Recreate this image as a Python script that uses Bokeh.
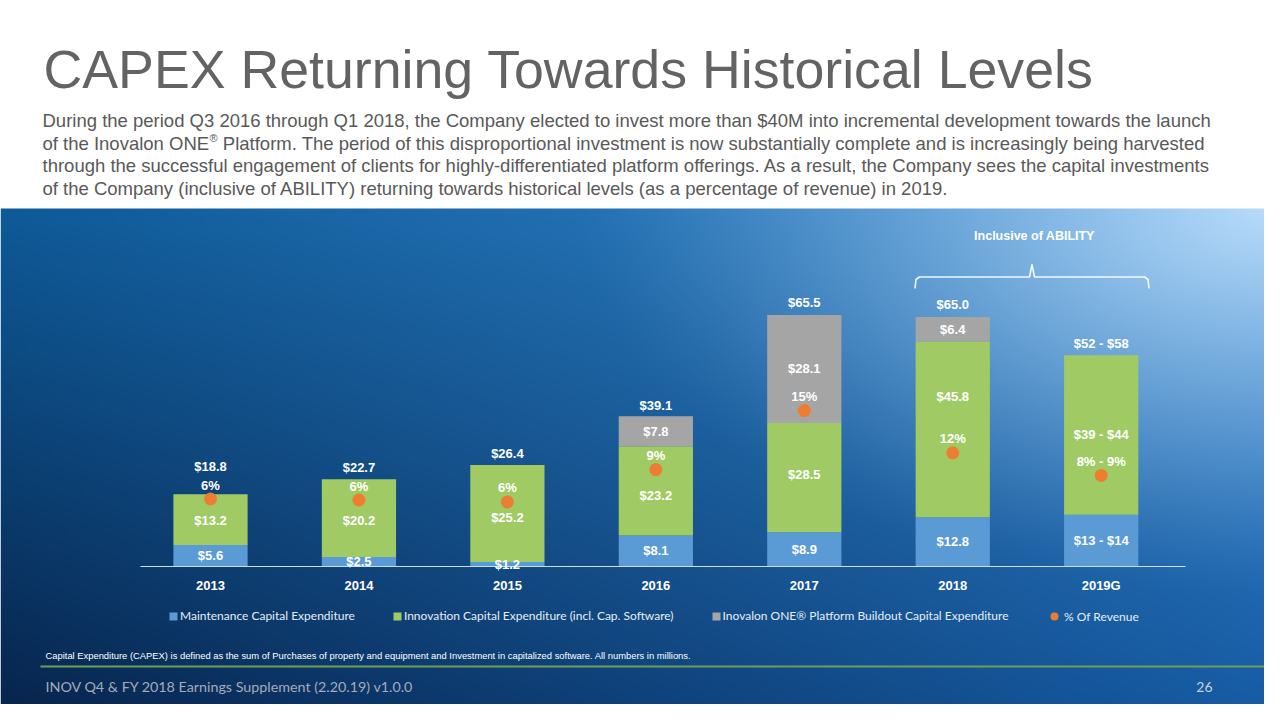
import numpy as np
from bokeh.plotting import figure
from bokeh.models import ColumnDataSource, Range1d, Label, Legend, LegendItem
from bokeh.core.properties import value
from bokeh.embed import file_html
from bokeh.resources import INLINE

# ---------------- data ----------------
categories = ["2013", "2014", "2015", "2016", "2017", "2018", "2019G"]
maintenance = [5.6, 2.5, 1.2, 8.1, 8.9, 12.8, 13.5]
innovation = [13.2, 20.2, 25.2, 23.2, 28.5, 45.8, 41.5]
buildout = [0.0, 0.0, 0.0, 7.8, 28.1, 6.4, 0.0]
pct_of_revenue = [6.0, 5.9, 5.7, 9.0, 15.0, 10.7, 8.4]

maintenance_labels = ["$5.6", "$2.5", "$1.2", "$8.1", "$8.9", "$12.8", "$13 - $14"]
innovation_labels = ["$13.2", "$20.2", "$25.2", "$23.2", "$28.5", "$45.8", "$39 - $44"]
buildout_labels = ["", "", "", "$7.8", "$28.1", "$6.4", ""]
total_labels = ["$18.8", "$22.7", "$26.4", "$39.1", "$65.5", "$65.0", "$52 - $58"]
pct_labels = ["6%", "6%", "6%", "9%", "15%", "12%", "8% - 9%"]

series_names = [
    "Maintenance Capital Expenditure",
    "Innovation Capital Expenditure (incl. Cap. Software)",
    "Inovalon ONE\u00ae Platform Buildout Capital Expenditure",
    "% Of Revenue",
]

title_text = "CAPEX Returning Towards Historical Levels"
body_line1 = "During the period Q3 2016 through Q1 2018, the Company elected to invest more than $40M into incremental development towards the launch"
body_line2a = "of the Inovalon ONE"
body_line2_reg = "\u00ae"
body_line2b = "Platform. The period of this disproportional investment is now substantially complete and is increasingly being harvested"
body_line3 = "through the successful engagement of clients for highly-differentiated platform offerings. As a result, the Company sees the capital investments"
body_line4 = "of the Company (inclusive of ABILITY) returning towards historical levels (as a percentage of revenue) in 2019."
bracket_text = "Inclusive of ABILITY"
footnote_text = ("Capital Expenditure (CAPEX) is defined as the sum of Purchases of property and equipment "
                 "and Investment in capitalized software. All numbers in millions.")
footer_text = "INOV Q4 & FY 2018 Earnings Supplement (2.20.19) v1.0.0"
page_number = "26"

# ---------------- layout ----------------
W, H = 1264, 704
PX_PER_CAT, CAT0_X = 148.45, 210.0
PX_PER_M, BASE_Y = 3.84, 566.0
PX_PER_PCT, PCT0_Y = 9.83, 557.5

BLUE, GREEN, GRAY, ORANGE = "#5B9BD5", "#A0CB64", "#A5A5A5", "#ED7D31"
FONT = "Liberation Sans"

x_range = Range1d(-CAT0_X / PX_PER_CAT, (W - CAT0_X) / PX_PER_CAT)
y_range = Range1d(-(H - BASE_Y) / PX_PER_M, BASE_Y / PX_PER_M)

p = figure(width=W, height=H, x_range=x_range, y_range=y_range,
           output_backend="svg", toolbar_location=None,
           x_axis_location=None, y_axis_location=None, min_border=0)
p.extra_y_ranges = {"pct": Range1d(-(H - PCT0_Y) / PX_PER_PCT, PCT0_Y / PX_PER_PCT)}
p.outline_line_color = None
p.grid.visible = False
p.background_fill_color = "white"
p.border_fill_color = "white"


def dx(page_x):
    return x_range.start + (page_x - 8) / PX_PER_CAT


def dy(page_y):
    return y_range.end - (page_y - 8) / PX_PER_M


# ---------------- background gradient ----------------
h2, w2 = H // 2, W // 2
rr, cc = np.mgrid[0:h2, 0:w2]
gx = 8 + 2 * cc + 1.0
gy = 8 + 2 * rr + 1.0
u = (gx / 1280.0)[..., None]
v = np.clip((gy - 216) / 504.0, 0, 1)[..., None]
TL = np.array([14, 90, 152.0]); TR = np.array([58, 138, 208.0])
BL = np.array([7, 36, 76.0]); BR = np.array([22, 92, 165.0])
top = TL * (1 - u) + TR * u
bot = BL * (1 - u) + BR * u
col = top * (1 - v) + bot * v
dist = np.hypot(gx - 1280, (gy - 216) * 1.8)
hl = (np.clip(1 - dist / 700.0, 0, 1) ** 1.3)[..., None]
col = col * (1 - hl) + np.array([185, 220, 250.0]) * hl
col[gy < 216] = 255
rgba = np.empty((h2, w2), dtype=np.uint32)
view = rgba.view(np.uint8).reshape(h2, w2, 4)
view[..., :3] = np.clip(col, 0, 255).astype(np.uint8)
view[..., 3] = 255
rgba = np.ascontiguousarray(rgba[::-1])
p.image_rgba(image=[rgba], x=x_range.start, y=y_range.start,
             dw=x_range.end - x_range.start, dh=y_range.end - y_range.start)

# ---------------- bars ----------------
idx = list(range(len(categories)))
totals = [m + i + b for m, i, b in zip(maintenance, innovation, buildout)]
src = ColumnDataSource(dict(
    x=idx, cat=categories, maint=maintenance, innov=innovation, build=buildout,
    total=totals, pct=pct_of_revenue,
    maint_mid=[m / 2 for m in maintenance],
    innov_mid=[m + i / 2 for m, i in zip(maintenance, innovation)],
    build_mid=[m + i + b / 2 for m, i, b in zip(maintenance, innovation, buildout)],
    maint_lab=maintenance_labels, innov_lab=innovation_labels,
    build_lab=buildout_labels, total_lab=total_labels, pct_lab=pct_labels,
    total_off=[-28, -12, -12, -11, -12, -12, -12],
    innov_off=[1, 2, 4, 5, -3, -33, 0],
))

bars = p.vbar_stack(["maint", "innov", "build"], x="x", width=0.5, source=src,
                    color=[BLUE, GREEN, GRAY], line_color=None)

# baseline (category axis line)
p.segment(x0=[dx(148)], y0=[0], x1=[dx(1193)], y1=[0], line_color="#cfdcea", line_width=1.2)

dots = p.scatter(x="x", y="pct", source=src, y_range_name="pct", size=13,
                 fill_color=ORANGE, line_color=None)

lab_kw = dict(text_font=value(FONT), text_font_style="bold", text_font_size="13px",
              text_color="white", text_align="center", text_baseline="middle")
p.text(x="x", y="maint_mid", text="maint_lab", source=src, **lab_kw)
p.text(x="x", y="innov_mid", text="innov_lab", source=src, y_offset="innov_off", **lab_kw)
p.text(x="x", y="build_mid", text="build_lab", source=src, **lab_kw)
p.text(x="x", y="total", text="total_lab", source=src, y_offset="total_off", **lab_kw)
p.text(x="x", y="pct", text="pct_lab", source=src, y_range_name="pct", y_offset=-14, **lab_kw)
p.text(x="x", y=0, text="cat", source=src, y_offset=19, **lab_kw)

# ---------------- bracket ----------------
bx = [dx(922.5), dx(923.5), dx(927), dx(1037), dx(1039.5), dx(1042), dx(1152), dx(1155.5), dx(1156.5)]
by = [dy(296), dy(287), dy(284.5), dy(284.5), dy(272), dy(284.5), dy(284.5), dy(287), dy(296)]
p.line(bx, by, line_color="white", line_width=1.6, line_alpha=0.9)

# footer rule
p.segment(x0=[dx(48)], y0=[dy(674)], x1=[dx(1290)], y1=[dy(674)], line_color="#6f9f55", line_width=2)


# ---------------- texts ----------------
def page_label(text, px, py, size, color, font=FONT, style="normal", align="left", baseline="middle"):
    p.add_layout(Label(x=px - 8, y=712 - py, x_units="screen", y_units="screen", text=text,
                       text_font=font, text_font_size=size, text_font_style=style,
                       text_color=color, text_align=align, text_baseline=baseline))


BODY_SIZE, BODY_COLOR = 18.5, "#595959"
page_label(title_text, 51, 76, "53.7px", "#636363")
page_label(body_line1, 50, 128, f"{BODY_SIZE}px", BODY_COLOR)
page_label(body_line2a, 50, 150.5, f"{BODY_SIZE}px", BODY_COLOR)
w2a = 9.005 * BODY_SIZE  # advance width of "of the Inovalon ONE" (Arial metrics)
page_label(body_line2_reg, 50 + w2a + 0.5, 145, "11px", BODY_COLOR)
page_label(body_line2b, 50 + w2a + 8.6 + 0.278 * BODY_SIZE, 150.5, f"{BODY_SIZE}px", BODY_COLOR)
page_label(body_line3, 50, 173, f"{BODY_SIZE}px", BODY_COLOR)
page_label(body_line4, 50, 195.5, f"{BODY_SIZE}px", BODY_COLOR)
page_label(bracket_text, 1042, 243, "12.5px", "white", style="bold", align="center")
page_label(footnote_text, 53, 662.5, "9.4px", "white")
page_label(footer_text, 53, 694, "14.3px", "#a3acb8", font="Lato")
page_label(page_number, 1220, 694, "14px", "#c9d2dc", font="Lato", align="right")

# ---------------- legend ----------------
leg_kw = dict(orientation="horizontal", padding=0, margin=0, background_fill_alpha=0,
              border_line_alpha=0, label_text_font="Lato", label_text_font_size="12px",
              label_text_color="#e6edf5", label_height=10)
leg1 = Legend(items=[LegendItem(label=series_names[k], renderers=[bars[k]]) for k in range(3)],
              location=(168, 81), glyph_width=10, glyph_height=10, label_standoff=2,
              spacing=37, **leg_kw)
leg2 = Legend(items=[LegendItem(label=series_names[3], renderers=[dots])],
              location=(1044, 78), glyph_width=20, glyph_height=20, label_standoff=0, **leg_kw)
p.add_layout(leg1)
p.add_layout(leg2)

open("out.html", "w").write(file_html(p, INLINE))
